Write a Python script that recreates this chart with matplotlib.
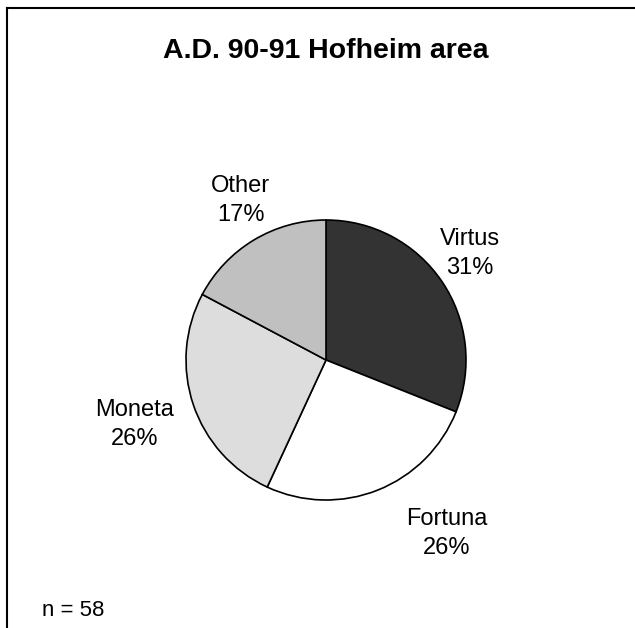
import matplotlib
matplotlib.use("Agg")
import matplotlib.pyplot as plt
from matplotlib.lines import Line2D

plt.rcParams['font.family'] = ['Liberation Sans', 'DejaVu Sans']

# coin counts (n = 58)
categories = ["Virtus", "Fortuna", "Moneta", "Other"]
counts = [18, 15, 15, 10]
colors = ["#333333", "#ffffff", "#dddddd", "#c0c0c0"]
title = "A.D. 90-91 Hofheim area"
n_text = "n = 58"

# label centres in axes data units (pie radius = 1)
label_pos = [(1.03, 0.76), (0.86, -1.24), (-1.37, -0.46), (-0.61, 1.14)]

fig = plt.figure(figsize=(6.35, 6.28), dpi=100)
W, H = 635, 628

# frame (open at right/bottom like the original crop)
fig.add_artist(Line2D([7 / W, 7 / W], [0, 1 - 8 / H], color="black", lw=1.5))
fig.add_artist(Line2D([7 / W, 1], [1 - 8 / H, 1 - 8 / H], color="black", lw=1.5))

cx, cy, r = 326, 360, 140
ax = fig.add_axes([(cx - r) / W, 1 - (cy + r) / H, 2 * r / W, 2 * r / H])
ax.pie(counts, colors=colors, startangle=90, counterclock=False,
       wedgeprops=dict(edgecolor="black", linewidth=1.2))
ax.set_xlim(-1, 1)
ax.set_ylim(-1, 1)
ax.set_aspect("equal")
ax.axis("off")

total = sum(counts)
for name, c, (x, y) in zip(categories, counts, label_pos):
    ax.text(x, y, f"{name}\n{round(100 * c / total)}%", ha="center", va="center",
            fontsize=17, linespacing=1.45, clip_on=False)

fig.text(326 / W, 1 - 51 / H, title, ha="center", va="center",
         fontsize=20.5, fontweight="bold")
fig.text(42 / W, 1 - 610 / H, n_text, ha="left", va="center", fontsize=16)

fig.savefig("out.png", dpi=100, facecolor="white")
